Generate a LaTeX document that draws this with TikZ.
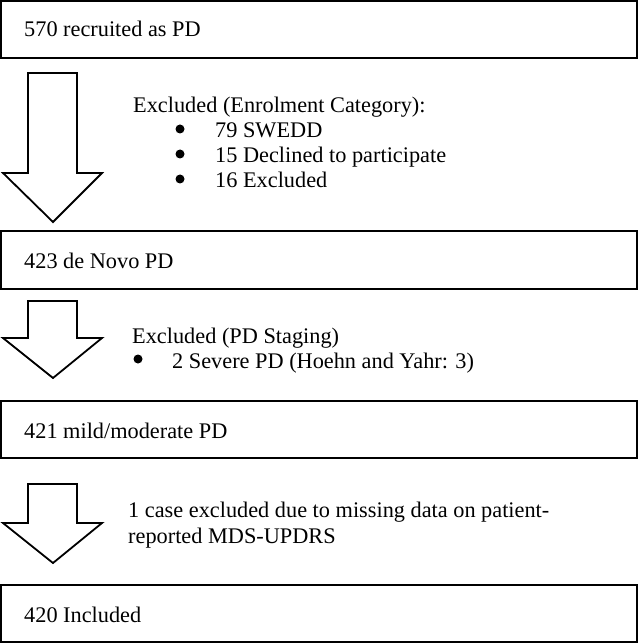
\documentclass[tikz,border=0pt]{standalone}
\usepackage{fontspec}
\setmainfont{Liberation Serif}
\begin{document}
\begin{tikzpicture}[x=1pt,y=-1pt,
  box/.style={draw=black,line width=2.4pt,minimum width=636pt,inner sep=0pt},
  txt/.style={inner sep=0pt,anchor=base west,font=\fontsize{22.3}{25}\selectfont},
  bul/.style={circle,fill=black,inner sep=0pt,minimum size=9pt},
  blockarrow/.style={draw=black,line width=1.8pt,line join=miter,fill=white}]
\useasboundingbox (0,0) rectangle (639,644);
% boxes
\node[box,minimum height=57pt] (b1) at (319,29.5) {};
\node[box,minimum height=58pt] (b2) at (319,260) {};
\node[box,minimum height=57pt] (b3) at (319,429.5) {};
\node[box,minimum height=57pt] (b4) at (319,613.5) {};
\node[txt] (l1) at (24,37) {570 recruited as PD};
\node[txt] (l2) at (24,268) {423 de Novo PD};
\node[txt] (l3) at (24,438) {421 mild/moderate PD};
\node[txt] (l4) at (24,622) {420 Included};
% block arrows
\draw[blockarrow] (28,73) -- (77,73) -- (77,173) -- (102,173) -- (53,222) -- (3,173) -- (28,173) -- cycle;
\draw[blockarrow] (28,301) -- (77,301) -- (77,338) -- (102,338) -- (53,378) -- (3,338) -- (28,338) -- cycle;
\draw[blockarrow] (28,484) -- (77,484) -- (77,523) -- (102,523) -- (53,563) -- (3,523) -- (28,523) -- cycle;
% exclusion texts
\node[txt] (e1) at (133,113) {Excluded (Enrolment Category):};
\node[bul] (e1b1) at (180,129) {};
\node[txt] (e1t1) at (215,138) {79 SWEDD};
\node[bul] (e1b2) at (180,154) {};
\node[txt] (e1t2) at (215,163) {15 Declined to participate};
\node[bul] (e1b3) at (180,179) {};
\node[txt] (e1t3) at (215,188) {16 Excluded};
\node[txt] (e2) at (132,343) {Excluded (PD Staging)};
\node[bul] (e2b1) at (138,359) {};
\node[txt] (e2t1) at (172,368) {2 Severe PD (Hoehn and Yahr: 3)};
\node[txt] (e3a) at (128,517) {1 case excluded due to missing data on patient-};
\node[txt] (e3b) at (128,543) {reported MDS-UPDRS};
\end{tikzpicture}
\end{document}
